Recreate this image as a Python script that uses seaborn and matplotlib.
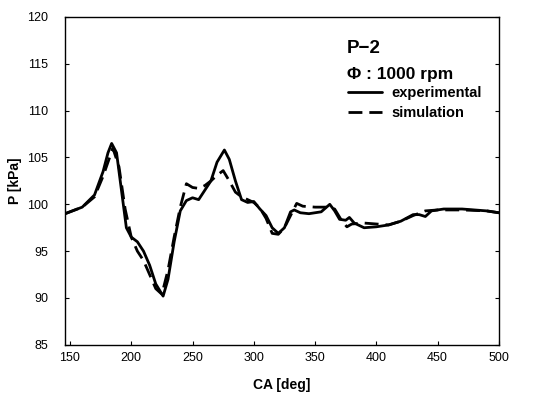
import numpy as np
import pandas as pd
import matplotlib
matplotlib.use("Agg")
import matplotlib.pyplot as plt
import seaborn as sns

# valeurs
ca_exp = [146, 150, 160, 170, 177, 181, 184, 188, 192, 196, 200, 205, 210, 215, 220, 226,
          230, 235, 240, 245, 250, 255, 260, 265, 270, 276, 280, 285, 290, 295, 300, 305,
          310, 315, 320, 325, 330, 333, 338, 345, 355, 362, 366, 370, 375, 378, 382, 390,
          400, 410, 420, 430, 435, 440, 445, 455, 470, 490, 500]
p_exp = [99.0, 99.2, 99.7, 101.0, 103.5, 105.5, 106.5, 105.5, 101.5, 97.5, 96.5, 96.0, 95.0, 93.5, 91.5, 90.2,
         92.0, 96.0, 99.3, 100.4, 100.7, 100.5, 101.5, 102.5, 104.5, 105.8, 104.8, 102.5, 100.5, 100.2, 100.3, 99.5,
         98.8, 97.5, 96.9, 97.5, 99.2, 99.4, 99.1, 99.0, 99.2, 100.0, 99.3, 98.4, 98.3, 98.6, 98.0, 97.5,
         97.6, 97.8, 98.2, 98.9, 98.9, 98.7, 99.3, 99.5, 99.5, 99.3, 99.1]

ca_sim = [146, 150, 160, 170, 177, 185, 190, 195, 200, 205, 210, 215, 220, 225,
          230, 235, 240, 245, 250, 255, 260, 265, 270, 275, 280, 285, 290, 300, 305,
          310, 315, 320, 325, 330, 335, 340, 350, 360, 366, 372, 376, 380, 390,
          400, 410, 420, 430, 440, 450, 470, 490, 500]
p_sim = [99.0, 99.2, 99.7, 100.8, 103.0, 106.0, 104.0, 99.5, 96.5, 95.0, 94.0, 92.5, 91.0, 90.4,
         93.0, 96.5, 99.7, 102.2, 101.8, 101.7, 102.0, 102.5, 103.1, 103.6, 102.5, 101.3, 100.8, 100.2, 99.6,
         98.5, 96.9, 96.8, 97.5, 98.8, 100.1, 99.8, 99.7, 99.7, 99.5, 98.2, 97.6, 97.9, 98.0,
         97.9, 97.8, 98.2, 98.8, 99.3, 99.4, 99.4, 99.3, 99.1]

df = pd.concat([
    pd.DataFrame({"CA": ca_exp, "P": p_exp, "serie": "experimental"}),
    pd.DataFrame({"CA": ca_sim, "P": p_sim, "serie": "simulation"}),
], ignore_index=True)

sns.set_style("ticks")
plt.rcParams["font.family"] = ["Liberation Sans", "DejaVu Sans"]
plt.rcParams["text.color"] = "black"
plt.rcParams["axes.labelcolor"] = "black"

fig = plt.figure(figsize=(5.47, 3.95), dpi=100)
ax = fig.add_axes([0.119, 0.127, 0.793, 0.830])

sns.lineplot(data=df, x="CA", y="P", style="serie", color="black", linewidth=2,
             dashes={"experimental": "", "simulation": (5, 2.5)}, sort=False,
             legend=False, ax=ax)

ax.set_xlim(146, 500)
ax.set_ylim(85, 120)
ax.set_xticks(range(150, 501, 50))
ax.set_yticks(range(85, 121, 5))
ax.tick_params(direction="in", length=3, labelsize=9, colors="black")
ax.tick_params(axis="y", right=True, pad=12)
ax.tick_params(axis="x", pad=5)
for s in ax.spines.values():
    s.set_visible(True)
    s.set_linewidth(1)
    s.set_color("black")

ax.set_xlabel("CA [deg]", fontsize=10, fontweight="bold", labelpad=10)
ax.set_ylabel("P [kPa]", fontsize=10, fontweight="bold", labelpad=4)

ax.text(0.65, 0.89, "P\u22122", transform=ax.transAxes, fontsize=13.5, fontweight="bold")
ax.text(0.65, 0.81, "\u03a6 : 1000 rpm", transform=ax.transAxes, fontsize=12.5, fontweight="bold")
leg = ax.legend(handles=ax.lines[:2], labels=["experimental", "simulation"],
                loc="upper left", bbox_to_anchor=(0.622, 0.83), frameon=False,
                handlelength=2.3, handletextpad=0.7, labelspacing=0.45,
                prop={"size": 10.5, "weight": "bold"})

fig.savefig("out.png", dpi=100)
